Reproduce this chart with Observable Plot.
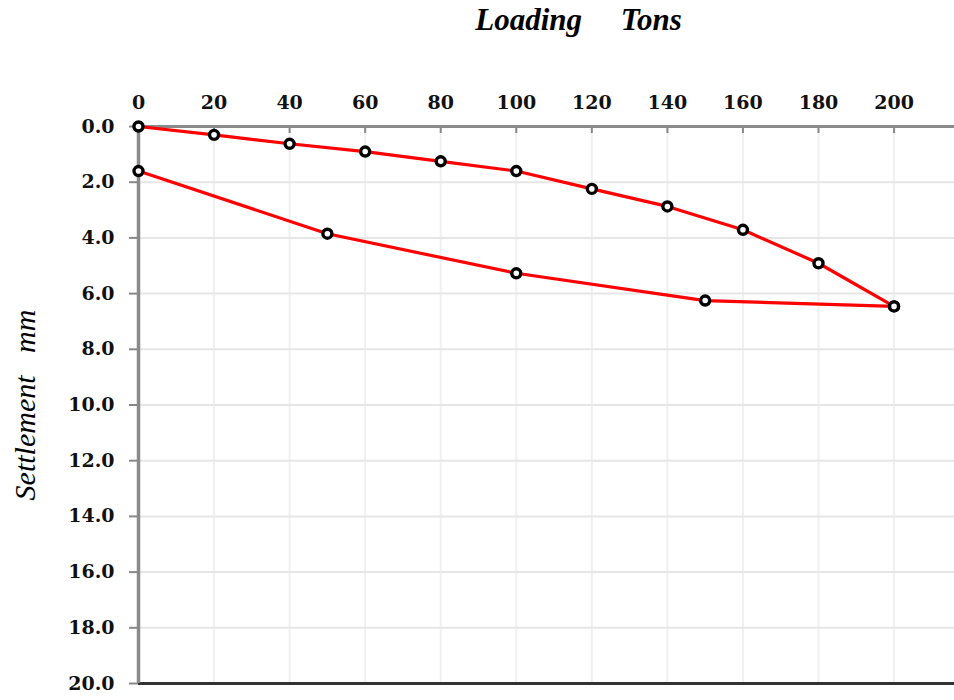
<!DOCTYPE html>
<html>
<head>
<meta charset="utf-8">
<script src="https://cdn.jsdelivr.net/npm/d3@7"></script>
<script src="https://cdn.jsdelivr.net/npm/@observablehq/plot@0.6"></script>
<style>
  html, body { margin: 0; padding: 0; background: #fff; }
  svg { display: block; }
</style>
</head>
<body>
<div id="chart"></div>
<script>
// Loading branch (tons vs settlement mm)
const loadX = [0, 20, 40, 60, 80, 100, 120, 140, 160, 180, 200];
const loadY = [0, 0.30, 0.62, 0.90, 1.25, 1.60, 2.24, 2.87, 3.71, 4.91, 6.46];
// Unloading branch
const unloadX = [200, 150, 100, 50, 0];
const unloadY = [6.46, 6.25, 5.27, 3.85, 1.60];

const xTicks = [0, 20, 40, 60, 80, 100, 120, 140, 160, 180, 200];
const yTicks = [0, 2, 4, 6, 8, 10, 12, 14, 16, 18, 20];

const titleText = "Loading\u00a0\u00a0\u00a0\u00a0\u00a0Tons";
const yLabelText = "Settlement\u00a0\u00a0\u00a0mm";

const loading = loadX.map((x, i) => ({x, y: loadY[i]}));
const unloading = unloadX.map((x, i) => ({x, y: unloadY[i]}));

const tickFont = "'DejaVu Serif', serif";
const labelFont = "'Liberation Serif', 'Times New Roman', Times, serif";

const chart = Plot.plot({
  width: 954,
  height: 700,
  marginLeft: 138,
  marginRight: 0,
  marginTop: 126,
  marginBottom: 17,
  style: {background: "#fff", fontFamily: tickFont, overflow: "visible"},
  x: {domain: [0, 216]},
  y: {domain: [0, 20], reverse: true},
  marks: [
    Plot.gridX(xTicks.slice(1), {stroke: "#f0f0f0", strokeOpacity: 1, strokeWidth: 2}),
    Plot.gridY(yTicks.slice(1, -1), {stroke: "#e6e6e6", strokeOpacity: 1, strokeWidth: 2}),
    Plot.axisX(xTicks, {
      anchor: "top", label: null, tickSize: -6, tickPadding: 24,
      stroke: "#888", strokeWidth: 2,
      tickFormat: d3.format("d"),
      fontSize: 19, fontWeight: "bold", fill: "#111"
    }),
    Plot.axisY(yTicks, {
      anchor: "left", label: null, tickSize: 9, tickPadding: 15,
      stroke: "#888", strokeWidth: 2,
      tickFormat: d3.format(".1f"),
      fontSize: 19, fontWeight: "bold", fill: "#111"
    }),
    Plot.ruleY([0], {stroke: "#8a8a8a", strokeWidth: 3, insetLeft: -6}),
    Plot.ruleY([20], {stroke: "#333", strokeWidth: 3}),
    Plot.ruleX([0], {stroke: "#8a8a8a", strokeWidth: 3.5}),
    Plot.line(loading, {x: "x", y: "y", stroke: "#ff0000", strokeWidth: 3.2}),
    Plot.line(unloading, {x: "x", y: "y", stroke: "#ff0000", strokeWidth: 3.2}),
    Plot.dot(loading, {x: "x", y: "y", r: 4.5, fill: "#fff", stroke: "#000", strokeWidth: 3.4}),
    Plot.dot(unloading, {x: "x", y: "y", r: 4.5, fill: "#fff", stroke: "#000", strokeWidth: 3.4}),
    Plot.text([titleText], {
      text: d => d, frameAnchor: "top", dx: 32, dy: -106, lineAnchor: "middle",
      fontFamily: labelFont, fontStyle: "italic", fontWeight: "bold",
      fontSize: 31, fill: "#000"
    }),
    Plot.text([yLabelText], {
      text: d => d, frameAnchor: "left", dx: -113, rotate: -90, lineAnchor: "middle",
      textAnchor: "middle",
      fontFamily: labelFont, fontStyle: "italic",
      fontSize: 30, fill: "#000"
    })
  ]
});

document.getElementById("chart").appendChild(chart);
</script>
</body>
</html>
